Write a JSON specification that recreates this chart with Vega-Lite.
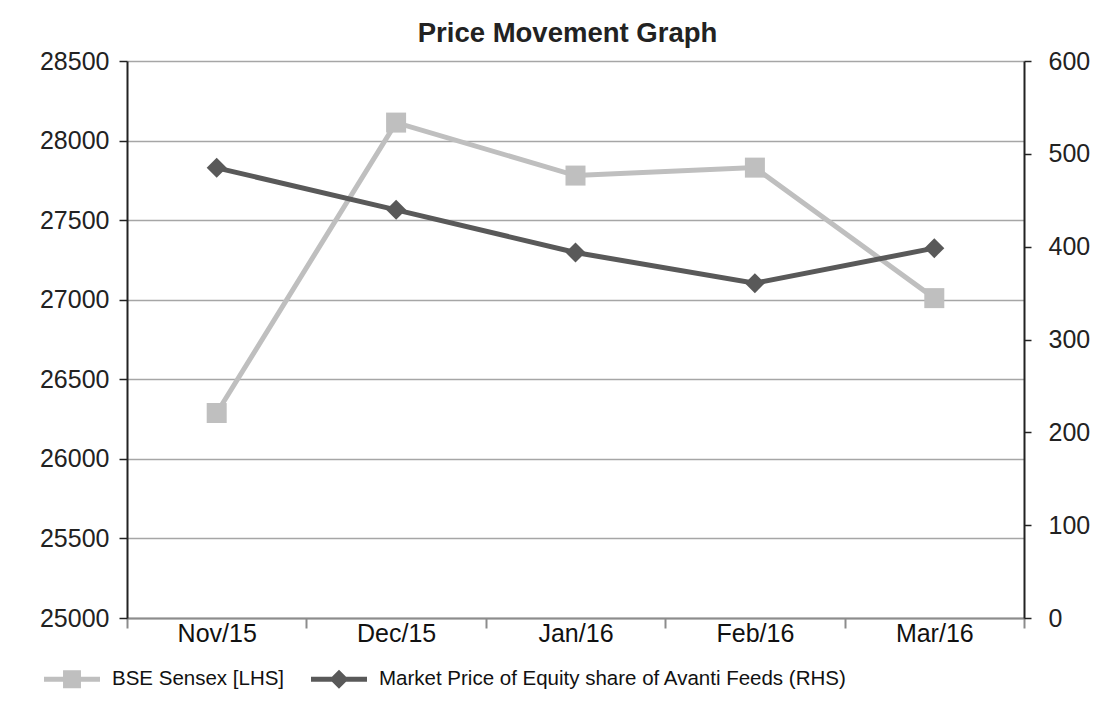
{
  "$schema": "https://vega.github.io/schema/vega-lite/v6.json",
  "width": 897,
  "height": 557,
  "autosize": {"type": "none"},
  "padding": {"left": 127, "top": 61, "right": 85, "bottom": 89},
  "background": "white",
  "title": {
    "text": "Price Movement Graph",
    "font": "Liberation Sans",
    "fontSize": 27.5,
    "fontWeight": "bold",
    "color": "#222222",
    "anchor": "middle",
    "baseline": "alphabetic",
    "offset": -20,
    "dx": -8
  },
  "data": {
    "values": [
      {"month": "Nov/15", "series": "BSE Sensex [LHS]", "value": 26288},
      {"month": "Dec/15", "series": "BSE Sensex [LHS]", "value": 28113},
      {"month": "Jan/16", "series": "BSE Sensex [LHS]", "value": 27780},
      {"month": "Feb/16", "series": "BSE Sensex [LHS]", "value": 27830},
      {"month": "Mar/16", "series": "BSE Sensex [LHS]", "value": 27010},
      {"month": "Nov/15", "series": "Market Price of Equity share of Avanti Feeds (RHS)", "value": 484.9},
      {"month": "Dec/15", "series": "Market Price of Equity share of Avanti Feeds (RHS)", "value": 439.7},
      {"month": "Jan/16", "series": "Market Price of Equity share of Avanti Feeds (RHS)", "value": 393.7},
      {"month": "Feb/16", "series": "Market Price of Equity share of Avanti Feeds (RHS)", "value": 360.7},
      {"month": "Mar/16", "series": "Market Price of Equity share of Avanti Feeds (RHS)", "value": 398.4}
    ]
  },
  "encoding": {
    "x": {
      "field": "month",
      "type": "nominal",
      "sort": ["Nov/15", "Dec/15", "Jan/16", "Feb/16", "Mar/16"],
      "scale": {"type": "band", "paddingInner": 0, "paddingOuter": 0},
      "axis": {
        "title": null,
        "labelAngle": 0,
        "tickBand": "extent",
        "tickSize": 10,
        "tickColor": "#8c8c8c",
        "tickWidth": 2,
        "domainColor": "#8c8c8c",
        "domainWidth": 2,
        "labelFont": "Liberation Sans",
        "labelFontSize": 25,
        "labelColor": "#111111",
        "labelPadding": -7,
        "grid": false
      }
    }
  },
  "layer": [
    {
      "transform": [{"filter": "datum.series === 'BSE Sensex [LHS]'"}],
      "encoding": {
        "y": {
          "field": "value",
          "type": "quantitative",
          "scale": {"domain": [25000, 28500], "nice": false, "zero": false},
          "axis": {
            "title": null,
            "orient": "left",
            "values": [25000, 25500, 26000, 26500, 27000, 27500, 28000, 28500],
            "format": "d",
            "grid": true,
            "gridColor": "#a6a6a6",
            "gridWidth": 1.5,
            "domainColor": "#222222",
            "domainWidth": 2,
            "tickColor": "#222222",
            "tickWidth": 1.5,
            "tickSize": 8,
            "labelPadding": 10,
            "labelFont": "Liberation Sans",
            "labelFontSize": 25,
            "labelColor": "#222222"
          }
        }
      },
      "layer": [
        {"mark": {"type": "line", "color": "#bfbfbf", "strokeWidth": 5}},
        {"mark": {"type": "point", "shape": "square", "filled": true, "size": 400, "color": "#bfbfbf", "opacity": 1}}
      ]
    },
    {
      "transform": [{"filter": "datum.series !== 'BSE Sensex [LHS]'"}],
      "encoding": {
        "y": {
          "field": "value",
          "type": "quantitative",
          "scale": {"domain": [0, 600], "nice": false},
          "axis": {
            "title": null,
            "orient": "right",
            "values": [0, 100, 200, 300, 400, 500, 600],
            "grid": false,
            "domainColor": "#222222",
            "domainWidth": 2,
            "tickColor": "#222222",
            "tickWidth": 1.5,
            "tickSize": 7,
            "labelPadding": 17,
            "labelFont": "Liberation Sans",
            "labelFontSize": 25,
            "labelColor": "#222222"
          }
        }
      },
      "layer": [
        {"mark": {"type": "line", "color": "#595959", "strokeWidth": 5}},
        {"mark": {"type": "point", "shape": "diamond", "filled": true, "size": 400, "color": "#595959", "opacity": 1}}
      ]
    },
    {
      "mark": {"type": "point", "filled": true, "size": 0, "opacity": 1},
      "encoding": {
        "color": {
          "field": "series",
          "type": "nominal",
          "scale": {
            "domain": ["BSE Sensex [LHS]", "Market Price of Equity share of Avanti Feeds (RHS)"],
            "range": ["#bfbfbf", "#595959"]
          },
          "legend": {
            "title": null,
            "orient": "none",
            "direction": "horizontal",
            "legendX": -83,
            "legendY": 590,
            "padding": 0,
            "symbolSize": 3136,
            "symbolStrokeWidth": 0,
            "symbolOpacity": 1,
            "labelFont": "Liberation Sans",
            "labelFontSize": 20.5,
            "labelColor": "#111111",
            "labelOffset": 12,
            "columnPadding": 26,
            "labelLimit": 800
          }
        },
        "shape": {
          "field": "series",
          "type": "nominal",
          "scale": {
            "domain": ["BSE Sensex [LHS]", "Market Price of Equity share of Avanti Feeds (RHS)"],
            "range": [
              "M-1,-0.09H1V0.09H-1Z M-0.32,-0.32H0.32V0.32H-0.32Z",
              "M-1,-0.09H1V0.09H-1Z M0,-0.34L0.34,0L0,0.34L-0.34,0Z"
            ]
          }
        }
      }
    }
  ],
  "resolve": {"scale": {"y": "independent"}},
  "config": {
    "view": {"stroke": null},
    "font": "Liberation Sans"
  }
}
